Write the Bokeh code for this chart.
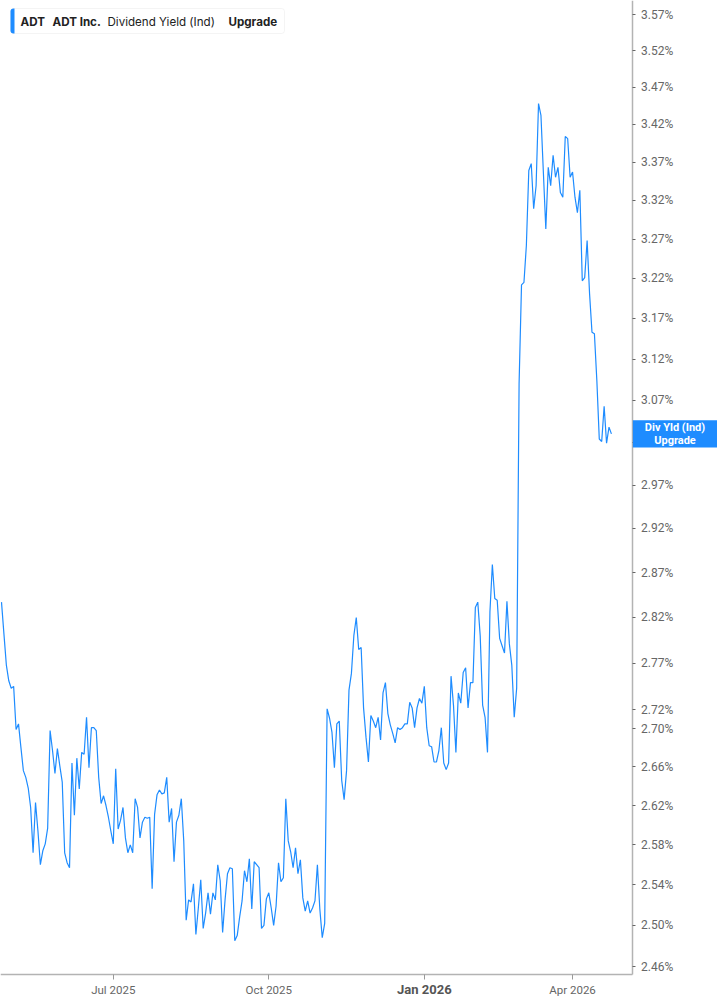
import math
import pandas as pd
from bokeh.plotting import figure
from bokeh.models import (FixedTicker, PrintfTickFormatter, Range1d, Label,
                          BoxAnnotation, ColumnDataSource)
from bokeh.embed import file_html
from bokeh.resources import INLINE

# ---------------- data ----------------
ticker_symbol = "ADT"
company_name = "ADT Inc."
metric_name = "Dividend Yield (Ind)"
upgrade_text = "Upgrade"
end_tag = "Div Yld (Ind)\nUpgrade"

start_date = "2025-04-24"
end_date = "2026-04-24"
market_holidays = ["2025-05-26", "2025-06-19", "2025-07-04", "2025-09-01",
                   "2025-11-27", "2025-12-25", "2026-01-01", "2026-01-19",
                   "2026-02-16", "2026-04-03"]

# dividend yield, percent, one value per trading day
yield_pct = [
    2.837, 2.802, 2.768, 2.751, 2.743, 2.745, 2.699, 2.705, 2.680, 2.656,
    2.649, 2.638, 2.618, 2.572, 2.623, 2.594, 2.560, 2.574, 2.581, 2.597,
    2.698, 2.677, 2.653, 2.679, 2.661, 2.644, 2.572, 2.562, 2.557, 2.664,
    2.610, 2.669, 2.637, 2.675, 2.673, 2.712, 2.659, 2.701, 2.701, 2.698,
    2.649, 2.622, 2.630, 2.620, 2.608, 2.594, 2.581, 2.658, 2.596, 2.605,
    2.618, 2.587, 2.572, 2.580, 2.572, 2.627, 2.618, 2.587, 2.603, 2.608,
    2.607, 2.608, 2.536, 2.611, 2.631, 2.636, 2.632, 2.633, 2.649, 2.603,
    2.617, 2.563, 2.603, 2.610, 2.627, 2.584, 2.505, 2.525, 2.523, 2.541,
    2.491, 2.517, 2.545, 2.497, 2.512, 2.532, 2.511, 2.532, 2.525, 2.560,
    2.544, 2.493, 2.525, 2.551, 2.557, 2.556, 2.485, 2.490, 2.508, 2.524,
    2.554, 2.543, 2.566, 2.516, 2.563, 2.560, 2.557, 2.497, 2.500, 2.526,
    2.532, 2.517, 2.500, 2.519, 2.562, 2.543, 2.547, 2.627, 2.584, 2.573,
    2.557, 2.577, 2.551, 2.565, 2.527, 2.514, 2.524, 2.512, 2.517, 2.524,
    2.560, 2.516, 2.488, 2.502, 2.721, 2.711, 2.696, 2.659, 2.705, 2.708,
    2.646, 2.626, 2.656, 2.741, 2.759, 2.800, 2.820, 2.785, 2.787, 2.722,
    2.691, 2.665, 2.714, 2.708, 2.701, 2.712, 2.688, 2.738, 2.749, 2.716,
    2.704, 2.695, 2.685, 2.701, 2.699, 2.701, 2.705, 2.705, 2.728, 2.722,
    2.701, 2.722, 2.732, 2.727, 2.745, 2.701, 2.682, 2.681, 2.665, 2.665,
    2.677, 2.701, 2.664, 2.657, 2.664, 2.756, 2.725, 2.675, 2.738, 2.727,
    2.760, 2.765, 2.722, 2.749, 2.749, 2.831, 2.837, 2.800, 2.725, 2.712,
    2.675, 2.826, 2.879, 2.841, 2.839, 2.797, 2.789, 2.781, 2.838, 2.791,
    2.768, 2.712, 2.743, 3.090, 3.212, 3.215, 3.262, 3.359, 3.368, 3.309,
    3.339, 3.448, 3.432, 3.356, 3.283, 3.363, 3.339, 3.379, 3.350, 3.363,
    3.330, 3.324, 3.404, 3.401, 3.350, 3.357, 3.324, 3.304, 3.333, 3.217,
    3.221, 3.268, 3.201, 3.153, 3.151, 3.094, 3.024, 3.021, 3.063, 3.019,
    3.038, 3.030,
]

y_ticks = [2.46, 2.50, 2.54, 2.58, 2.62, 2.66, 2.70, 2.72, 2.77, 2.82, 2.87,
           2.92, 2.97, 3.02, 3.07, 3.12, 3.17, 3.22, 3.27, 3.32, 3.37, 3.42,
           3.47, 3.52, 3.57]
x_tick_months = ["2025-07", "2025-10", "2026-01", "2026-04"]
x_tick_labels = ["Jul 2025", "Oct 2025", "Jan 2026", "Apr 2026"]
bold_tick_label = "Jan 2026"

# ---------------- layout / styling ----------------
W, H = 717, 1005
AXIS_X_PX = 631.5          # where the value axis sits
AXIS_Y_PX = 974            # where the time axis sits
PX_PER_DAY = 2.43
X_START = -0.41
Y_TOP = 3.5899             # value at the very top of the canvas
PX_PER_LOG = 2556.0        # pixels per unit of ln(value)

BLUE = "#1e8cff"
AXIS_GRAY = "#b3b3b3"
LABEL_GRAY = "#666666"

x_end = X_START + W / PX_PER_DAY
x_axis_at = X_START + AXIS_X_PX / PX_PER_DAY
y_bottom = Y_TOP * math.exp(-H / PX_PER_LOG)
y_axis_at = Y_TOP * math.exp(-AXIS_Y_PX / PX_PER_LOG)

dates = pd.bdate_range(start_date, end_date, freq="C", holidays=market_holidays)
n = min(len(dates), len(yield_pct))
dates = dates[:n]
idx = list(range(n))
source = ColumnDataSource(data=dict(idx=idx, yld=yield_pct[:n],
                                    date=[d.strftime("%Y-%m-%d") for d in dates]))

month_keys = [d.strftime("%Y-%m") for d in dates]
tick_idx = [month_keys.index(m) for m in x_tick_months]
tick_text = dict(zip(tick_idx, x_tick_labels))

p = figure(width=W, height=H, y_axis_type="log", y_axis_location="right",
           output_backend="svg", toolbar_location=None, title=None,
           x_range=Range1d(X_START, x_end), y_range=Range1d(y_bottom, Y_TOP),
           min_border=0, min_border_left=0, min_border_top=0,
           min_border_right=0, min_border_bottom=0)
p.background_fill_color = "white"
p.border_fill_color = "white"
p.outline_line_color = None
p.grid.grid_line_color = None

p.line("idx", "yld", source=source, line_color=BLUE, line_width=1.2)

# x axis
xa = p.xaxis[0]
xa.fixed_location = y_axis_at
xa.bounds = (X_START, x_axis_at)
xa.ticker = FixedTicker(ticks=tick_idx)
overrides = {}
for k, lab in tick_text.items():
    overrides[k] = "" if lab == bold_tick_label else lab
xa.major_label_overrides = overrides
xa.major_label_text_font = "Roboto"
xa.major_label_text_font_size = "11.5px"
xa.major_label_text_color = LABEL_GRAY
xa.axis_line_color = AXIS_GRAY
xa.axis_line_width = 1.5
xa.major_tick_line_color = "#999999"
xa.major_tick_out = 5
xa.major_tick_in = 0
xa.minor_tick_line_color = None
xa.major_label_standoff = 3

# y axis
ya = p.yaxis[0]
ya.fixed_location = x_axis_at
ya.bounds = (y_axis_at, Y_TOP)
ya.ticker = FixedTicker(ticks=y_ticks)
ya.formatter = PrintfTickFormatter(format="%.2f%%")
ya.major_label_text_font = "Roboto"
ya.major_label_text_font_size = "12px"
ya.major_label_text_color = LABEL_GRAY
ya.axis_line_color = AXIS_GRAY
ya.axis_line_width = 1.5
ya.major_tick_line_color = "#666666"
ya.major_tick_out = 3
ya.major_tick_in = 0
ya.minor_tick_line_color = None
ya.major_label_standoff = 6

# bold tick label
for k, lab in tick_text.items():
    if lab == bold_tick_label:
        p.add_layout(Label(x=k, y=H - 988.5, x_units="data", y_units="screen",
                           text=lab, text_align="center", text_baseline="middle",
                           text_font="Roboto", text_font_style="bold",
                           text_font_size="13px", text_color="#555555"))

# legend box
p.add_layout(BoxAnnotation(left=10, right=284, top=H - 8, bottom=H - 33,
                           left_units="screen", right_units="screen",
                           top_units="screen", bottom_units="screen",
                           fill_color="white", fill_alpha=1.0,
                           line_color="#dcdcdc", line_width=1, border_radius=3))
p.add_layout(BoxAnnotation(left=10, right=14, top=H - 8, bottom=H - 33,
                           left_units="screen", right_units="screen",
                           top_units="screen", bottom_units="screen",
                           fill_color=BLUE, fill_alpha=1.0, line_color=None,
                           border_radius=(3, 0, 0, 3)))
legend_parts = [(20, ticker_symbol, "bold"), (52, company_name, "bold"),
                (107, metric_name, "normal"), (228, upgrade_text, "bold")]
for lx, txt, style in legend_parts:
    p.add_layout(Label(x=lx, y=H - 21, x_units="screen", y_units="screen",
                       text=txt, text_align="left", text_baseline="middle",
                       text_font="Inter", text_font_style=style,
                       text_font_size="11.6px", text_color="#222222"))

# end-of-series tag on the right
p.add_layout(Label(x=674.5, y=yield_pct[n - 1], x_units="screen", y_units="data",
                   text=end_tag, text_align="center", text_baseline="middle",
                   text_font="Roboto", text_font_style="bold",
                   text_font_size="11px", text_color="white",
                   text_line_height=0.95, background_fill_color=BLUE,
                   background_fill_alpha=1.0,
                   padding=dict(left=12, right=12, top=1, bottom=1)))

open("out.html", "w").write(file_html(p, INLINE))
